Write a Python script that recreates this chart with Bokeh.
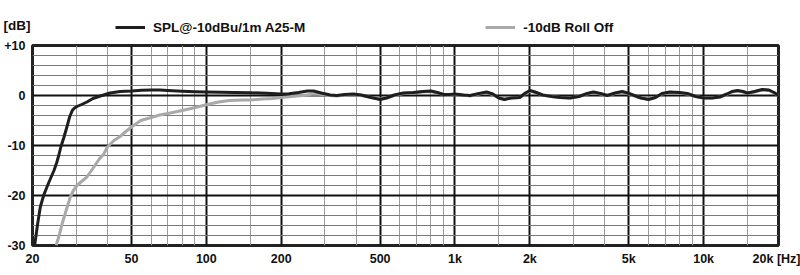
from bokeh.plotting import figure
from bokeh.layouts import column
from bokeh.models import Range1d, FixedTicker, Legend, LegendItem
from bokeh.embed import file_html
from bokeh.resources import INLINE

# ---- data ----
spl_freq = [20.4, 21.0, 21.5, 22.2, 23.3, 24.4, 25.0, 25.5, 26.0, 26.7, 27.5, 28.2, 28.9, 29.5,
            30.2, 31.5, 33.1, 35, 37.5, 41, 45, 50, 55, 60, 65, 70, 80, 90, 100, 115, 130,
            150, 175, 200, 215, 235, 255, 270, 290, 315, 335, 360, 390, 420, 460, 500, 530,
            570, 620, 680, 740, 800, 850, 900, 950, 1000, 1080, 1150, 1250, 1340, 1420,
            1500, 1580, 1680, 1820, 1920, 2000, 2100, 2250, 2450, 2650, 2900, 3150, 3400,
            3600, 3850, 4100, 4400, 4700, 4950, 5200, 5600, 6000, 6400, 6800, 7300, 8000,
            8600, 9300, 10000, 10800, 11600, 12400, 13000, 13700, 14400, 15000, 16000,
            17200, 18300, 19200, 20000]
spl_db = [-30, -25.5, -22.3, -19.9, -17.3, -15, -13.5, -12, -10.3, -8.5, -6.3, -4.3, -3.0, -2.5,
          -2.2, -1.8, -1.3, -0.6, -0.1, 0.5, 0.8, 0.9, 1.05, 1.1, 1.1, 1.0, 0.85, 0.75, 0.7, 0.65, 0.6,
          0.55, 0.45, 0.3, 0.35, 0.6, 0.9, 0.9, 0.5, 0.1, 0.0, 0.2, 0.3, 0.1, -0.4, -0.8, -0.5,
          0.1, 0.5, 0.6, 0.8, 0.9, 0.6, 0.2, 0.2, 0.3, 0.1, 0.0, 0.4, 0.7, 0.3,
          -0.5, -0.8, -0.5, -0.4, 0.5, 1.0, 0.7, 0.1, -0.2, -0.4, -0.5, -0.2, 0.4,
          0.7, 0.4, 0.0, 0.5, 0.8, 0.5, 0.1, -0.5, -0.8, -0.4, 0.4, 0.7, 0.6,
          0.4, -0.2, -0.5, -0.5, -0.3, 0.3, 0.8, 1.0, 0.8, 0.5, 0.8,
          1.2, 1.1, 0.6, 0.0]

roll_freq = [24.9, 25.6, 26.3, 27.3, 28.4, 29.2, 30.2, 31.5, 33.1, 35.3, 37, 38.7, 40, 42.5, 45,
             47.5, 50, 54.5, 60, 65, 70, 80, 92, 101, 112, 124, 140, 150, 168, 185, 200, 220,
             245, 270, 290, 315, 335, 360, 390, 420, 460, 500, 530, 570, 620, 680, 740, 800,
             850, 900, 950, 1000, 1080, 1150, 1250, 1340, 1420, 1500, 1580, 1680, 1820, 1920,
             2000, 2100, 2250, 2450, 2650, 2900, 3150, 3400, 3600, 3850, 4100, 4400, 4700,
             4950, 5200, 5600, 6000, 6400, 6800, 7300, 8000, 8600, 9300, 10000, 10800, 11600,
             12400, 13000, 13700, 14400, 15000, 16000, 17200, 18300, 19200, 20000]
roll_db = [-30, -28, -25.7, -23, -20.3, -19, -18, -17.2, -16.3, -14.3, -12.8, -11.7, -10.3, -9.0, -8.2,
           -7.2, -6.3, -5.0, -4.4, -3.9, -3.6, -3.0, -2.3, -1.8, -1.3, -1.0, -0.9, -0.9, -0.7, -0.6, -0.4, -0.2,
           0.0, 0.3, 0.2, 0.0, -0.1, 0.1, 0.2, 0.0, -0.4, -0.7, -0.5, 0.0, 0.4, 0.5, 0.7, 0.8,
           0.5, 0.2, 0.1, 0.2, 0.1, -0.1, 0.3, 0.6, 0.2, -0.5, -0.7, -0.5, -0.4, 0.4,
           0.9, 0.6, 0.1, -0.2, -0.4, -0.5, -0.2, 0.3, 0.6, 0.3, 0.0, 0.4, 0.7,
           0.4, 0.0, -0.5, -0.7, -0.4, 0.3, 0.6, 0.5, 0.3, -0.2, -0.5, -0.5, -0.3,
           0.2, 0.7, 0.9, 0.7, 0.5, 0.7, 1.1, 1.0, 0.5, 0.0]

x_label_ticks = [20, 50, 100, 200, 500, 1000, 2000, 5000, 10000, 20000]
x_label_texts = ["20", "50", "100", "200", "500", "1k", "2k", "5k", "10k", "20k [Hz]"]
x_major_grid = [50, 100, 200, 500, 1000, 2000, 5000, 10000]
x_minor_grid = [30, 40, 60, 70, 80, 90, 150, 300, 400, 600, 700, 800, 900, 1500,
                3000, 4000, 6000, 7000, 8000, 9000, 15000]
y_label_ticks = [10, 0, -10, -20, -30]
y_label_texts = ["+10", "0", "-10", "-20", "-30"]
y_major_grid = [0, -10, -20]
y_minor_grid = [8, 6, 4, 2, -2, -4, -6, -8, -12, -14, -16, -18, -22, -24, -26, -28]

series_names = ["SPL@-10dBu/1m A25-M", "-10dB Roll Off"]
y_unit_text = "[dB]"

FONT = "Liberation Sans"
TXT = "#111111"
BLACK = "#1e1e1e"
GRAY = "#a9a9a9"

x_range = Range1d(20, 20000)

# ---- main chart ----
p = figure(width=800, height=235, x_axis_type="log", output_backend="svg",
           toolbar_location=None, x_range=x_range, y_range=Range1d(-30, 10),
           min_border_left=32, min_border_right=22, min_border_top=5, min_border_bottom=30)
p.background_fill_color = "white"
p.border_fill_color = "white"
p.outline_line_color = "#222222"
p.outline_line_width = 3

p.xgrid.ticker = FixedTicker(ticks=x_major_grid, minor_ticks=x_minor_grid)
p.xgrid.grid_line_color = "#111111"
p.xgrid.grid_line_width = 2
p.xgrid.minor_grid_line_color = "#9a9a9a"
p.xgrid.minor_grid_line_width = 1
p.ygrid.ticker = FixedTicker(ticks=y_major_grid, minor_ticks=y_minor_grid)
p.ygrid.grid_line_color = "#111111"
p.ygrid.grid_line_width = 2
p.ygrid.minor_grid_line_color = "#7a7a7a"
p.ygrid.minor_grid_line_width = 1

p.xaxis.ticker = FixedTicker(ticks=x_label_ticks)
p.xaxis.major_label_overrides = {t: s for t, s in zip(x_label_ticks, x_label_texts)}
p.yaxis.ticker = FixedTicker(ticks=y_label_ticks)
p.yaxis.major_label_overrides = {t: s for t, s in zip(y_label_ticks, y_label_texts)}


def style_axis(ax, size):
    ax.axis_line_color = None
    ax.major_tick_line_color = None
    ax.minor_tick_line_color = None
    ax.major_tick_out = 0
    ax.major_tick_in = 0
    ax.minor_tick_out = 0
    ax.minor_tick_in = 0
    ax.major_label_text_font = FONT
    ax.major_label_text_font_style = "bold"
    ax.major_label_text_font_size = size
    ax.major_label_text_color = TXT


for ax in (p.xaxis, p.yaxis):
    style_axis(ax, "12.5px")
p.xaxis.major_label_standoff = 6
p.yaxis.major_label_standoff = 7

p.line(roll_freq, roll_db, line_color=GRAY, line_width=3, line_join="round")
p.line(spl_freq, spl_db, line_color=BLACK, line_width=3, line_join="round")

# ---- header strip: legend and the unit label ----
# (same series drawn again, but the header's y-range lies above the data,
#  so only the legend samples show)
head = figure(width=800, height=40, x_axis_type="log", output_backend="svg",
              toolbar_location=None, x_range=x_range, y_range=Range1d(50, 10),
              min_border_left=32, min_border_right=22, min_border_top=0, min_border_bottom=0)
head.outline_line_color = None
head.xaxis.visible = False
head.xgrid.visible = False
head.ygrid.visible = False
head.yaxis.ticker = FixedTicker(ticks=[35])
head.yaxis.major_label_overrides = {35: y_unit_text}
style_axis(head.yaxis, "13.5px")
head.yaxis.major_label_standoff = 2

h_roll = head.line(roll_freq, roll_db, line_color=GRAY, line_width=3)
h_spl = head.line(spl_freq, spl_db, line_color=BLACK, line_width=3)

legend = Legend(items=[LegendItem(label=series_names[0], renderers=[h_spl]),
                       LegendItem(label=series_names[1], renderers=[h_roll])],
                orientation="horizontal", location=(83, 3), spacing=180,
                label_standoff=8, glyph_width=30, glyph_height=20, label_height=20,
                padding=0, margin=0, border_line_color=None, background_fill_alpha=0,
                label_text_font=FONT, label_text_font_style="bold",
                label_text_font_size="13.5px", label_text_color=TXT)
head.add_layout(legend, "center")

layout = column(head, p, spacing=0)
open("out.html", "w").write(file_html(layout, INLINE))
